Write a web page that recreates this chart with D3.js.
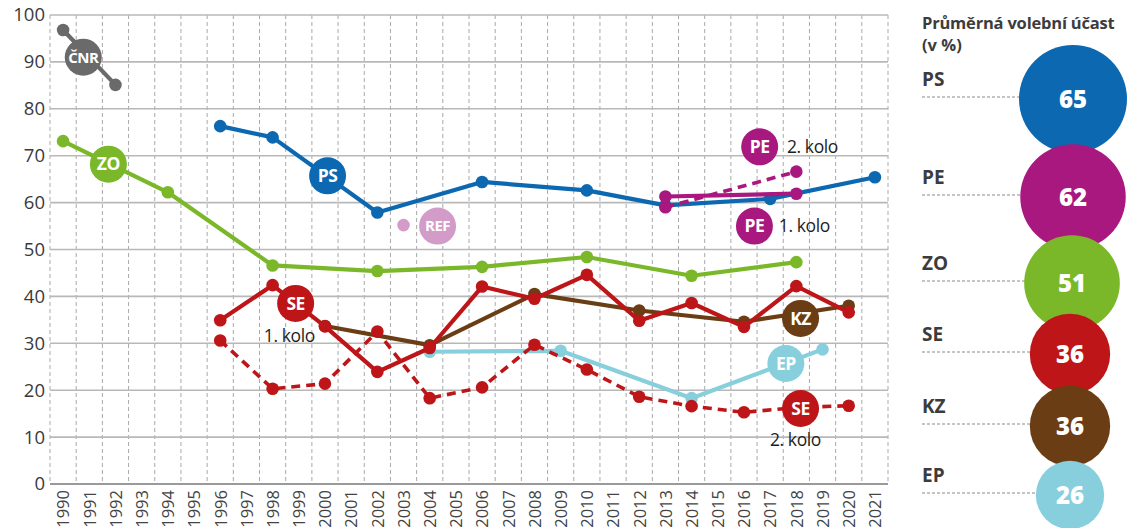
<!DOCTYPE html>
<html>
<head>
<meta charset="utf-8">
<script src="https://cdn.jsdelivr.net/npm/d3@7"></script>
<style>
  body { margin: 0; background: #fff; }
  svg { display: block; font-family: 'Open Sans', sans-serif; }
</style>
</head>
<body>
<div id="chart"></div>
<script>
// ---- data ----
const years = d3.range(1990, 2022);
const yTicks = d3.range(0, 101, 10);

const cnrYears = [1990, 1992];
const cnrValues = [96.8, 85.1];

const zoYears = [1990, 1994, 1998, 2002, 2006, 2010, 2014, 2018];
const zoValues = [73.1, 62.2, 46.6, 45.4, 46.3, 48.4, 44.4, 47.3];

const psYears = [1996, 1998, 2002, 2006, 2010, 2013, 2017, 2021];
const psValues = [76.3, 73.9, 57.9, 64.4, 62.6, 59.4, 60.8, 65.4];

const refYears = [2003];
const refValues = [55.2];

const peYears = [2013, 2018];
const pe1Values = [61.3, 61.9];
const pe2Values = [59.0, 66.6];

const seYears = [1996, 1998, 2000, 2002, 2004, 2006, 2008, 2010, 2012, 2014, 2016, 2018, 2020];
const se1Values = [34.9, 42.4, 33.6, 23.9, 29.0, 42.1, 39.5, 44.6, 34.8, 38.6, 33.5, 42.2, 36.6];
const se2Values = [30.6, 20.3, 21.4, 32.5, 18.3, 20.6, 29.7, 24.4, 18.6, 16.6, 15.3, 16.3, 16.7];

const kzYears = [2000, 2004, 2008, 2012, 2016, 2020];
const kzValues = [33.7, 29.6, 40.5, 37.0, 34.6, 38.0];

const epYears = [2004, 2009, 2014, 2019];
const epValues = [28.2, 28.4, 18.3, 28.7];

const legendLabels = ['PS', 'PE', 'ZO', 'SE', 'KZ', 'EP'];
const legendValues = [65, 62, 51, 36, 36, 26];

// ---- colours ----
const C = {
  cnr: '#6a6a6a', zo: '#7ab829', ps: '#0b68b1', ref: '#d39bc7',
  pe: '#a8187f', se: '#be1518', kz: '#6b3d14', ep: '#87cfdd'
};
const legendColors = [C.ps, C.pe, C.zo, C.se, C.kz, C.ep];

// ---- layout ----
const W = 1130, H = 528;
const margin = { top: 15, left: 50 };
const plotRight = 888, plotBottom = 484;

const svg = d3.select('#chart').append('svg').attr('width', W).attr('height', H);

const x = d3.scaleLinear().domain([1989.5, 2021.5]).range([margin.left, plotRight]);
const y = d3.scaleLinear().domain([0, 100]).range([plotBottom, margin.top]);

// grid
const gGrid = svg.append('g');
gGrid.selectAll('line.v')
  .data(d3.range(1989.5, 2022, 1))
  .join('line')
  .attr('x1', d => x(d)).attr('x2', d => x(d))
  .attr('y1', y(100)).attr('y2', y(0))
  .style('stroke', '#a9a9a9').style('stroke-width', 1)
  .style('stroke-dasharray', '4,3');

gGrid.selectAll('line.h')
  .data(yTicks)
  .join('line')
  .attr('x1', x(1989.5)).attr('x2', x(2021.5))
  .attr('y1', d => y(d)).attr('y2', d => y(d))
  .style('stroke', d => d === 0 ? '#9a9a9a' : '#b8b8b8')
  .style('stroke-width', d => d === 0 ? 2.2 : 1.6);

// axes
svg.append('g')
  .attr('transform', `translate(${margin.left - 5},0)`)
  .call(d3.axisLeft(y).tickValues(yTicks).tickSize(0).tickPadding(0))
  .call(g => {
    g.select('.domain').remove();
    g.selectAll('text').style('fill', '#3a3a3a').style('font-size', '18.5px')
      .style('font-family', "'Open Sans', sans-serif");
  });

svg.append('g')
  .attr('transform', `translate(0,${plotBottom})`)
  .call(d3.axisBottom(x).tickValues(years).tickSize(0).tickFormat(d3.format('d')))
  .call(g => {
    g.select('.domain').remove();
    g.selectAll('text')
      .attr('transform', 'rotate(-90)')
      .attr('text-anchor', 'end')
      .attr('x', -6).attr('y', 0).attr('dy', '0.35em')
      .style('fill', '#444').style('font-size', '16.5px')
      .style('font-family', "'Open Sans', sans-serif");
  });

// series
const lineGen = d3.line().x(d => x(d[0])).y(d => y(d[1]));
const zip = (a, b) => a.map((v, i) => [v, b[i]]);

const series = [
  { yrs: cnrYears, vals: cnrValues, color: C.cnr },
  { yrs: zoYears, vals: zoValues, color: C.zo },
  { yrs: psYears, vals: psValues, color: C.ps },
  { yrs: refYears, vals: refValues, color: C.ref },
  { yrs: kzYears, vals: kzValues, color: C.kz },
  { yrs: epYears, vals: epValues, color: C.ep },
  { yrs: seYears, vals: se2Values, color: C.se, dashed: true },
  { yrs: seYears, vals: se1Values, color: C.se },
  { yrs: peYears, vals: pe2Values, color: C.pe, dashed: true },
  { yrs: peYears, vals: pe1Values, color: C.pe }
];

const gSeries = svg.append('g');
series.forEach(s => {
  const pts = zip(s.yrs, s.vals);
  const g = gSeries.append('g');
  if (pts.length > 1) {
    g.append('path')
      .attr('d', lineGen(pts))
      .style('fill', 'none')
      .style('stroke', s.color)
      .style('stroke-width', s.dashed ? 3.6 : 4.2)
      .style('stroke-linejoin', 'round')
      .style('stroke-dasharray', s.dashed ? '9,6' : null);
  }
  g.selectAll('circle')
    .data(pts)
    .join('circle')
    .attr('cx', d => x(d[0])).attr('cy', d => y(d[1]))
    .attr('r', 6.3)
    .style('fill', s.color);
});

// series labels (bubbles on the lines)
const labels = [
  { text: 'ČNR', year: 1990.77, value: 91.0, color: C.cnr, size: 15 },
  { text: 'ZO', year: 1991.73, value: 68.2, color: C.zo },
  { text: 'PS', year: 2000.1, value: 65.7, color: C.ps },
  { text: 'REF', year: 2004.3, value: 55.0, color: C.ref, size: 15 },
  { text: 'SE', year: 1998.88, value: 38.5, color: C.se },
  { text: 'PE', year: 2016.6, value: 71.9, color: C.pe },
  { text: 'PE', year: 2016.4, value: 55.0, color: C.pe },
  { text: 'KZ', year: 2018.16, value: 35.3, color: C.kz },
  { text: 'EP', year: 2017.6, value: 25.7, color: C.ep },
  { text: 'SE', year: 2018.16, value: 16.1, color: C.se }
];
const gLabels = svg.append('g');
const lg = gLabels.selectAll('g').data(labels).join('g')
  .attr('transform', d => `translate(${x(d.year)},${y(d.value)})`);
lg.append('circle').attr('r', 18.5).style('fill', d => d.color);
lg.append('text')
  .attr('text-anchor', 'middle').attr('dy', '0.36em')
  .style('fill', '#fff').style('font-weight', 700)
  .style('font-size', d => (d.size || 17.5) + 'px')
  .style('letter-spacing', '-0.5px')
  .text(d => d.text);

// round notes
const notes = [
  { text: '1. kolo', year: 1998.64, value: 30.3, anchor: 'middle' },
  { text: '2. kolo', year: 2017.64, value: 70.5, anchor: 'start' },
  { text: '1. kolo', year: 2017.33, value: 53.8, anchor: 'start' },
  { text: '2. kolo', year: 2016.99, value: 8.1, anchor: 'start' }
];
svg.append('g').selectAll('text').data(notes).join('text')
  .attr('x', d => x(d.year)).attr('y', d => y(d.value))
  .attr('text-anchor', d => d.anchor)
  .style('fill', '#1e1e1e').style('font-size', '17.5px')
  .style('letter-spacing', '-0.4px')
  .text(d => d.text);

// ---- legend ----
const gLegend = svg.append('g');
gLegend.append('text')
  .attr('x', 922).attr('y', 29)
  .style('fill', '#3c3c3c').style('font-weight', 700).style('font-size', '16.5px')
  .style('letter-spacing', '-0.2px')
  .text('Průměrná volební účast');
gLegend.append('text')
  .attr('x', 922).attr('y', 51)
  .style('fill', '#3c3c3c').style('font-weight', 700).style('font-size', '16.5px')
  .text('(v %)');

const rScale = d3.scaleSqrt().domain([0, 65]).range([0, 54]);
const rowY = [99, 197, 283, 354, 426, 495];
const circleX = [1073, 1073, 1072, 1070, 1070, 1070];
const legendData = legendLabels.map((l, i) => ({ label: l, value: legendValues[i], color: legendColors[i], cy: rowY[i], cx: circleX[i] }));

gLegend.selectAll('line').data(legendData).join('line')
  .attr('x1', 922).attr('x2', d => d.cx)
  .attr('y1', d => d.cy - 2).attr('y2', d => d.cy - 2)
  .style('stroke', '#8c8c8c').style('stroke-width', 1.2).style('stroke-dasharray', '3,2');

gLegend.selectAll('text.lbl').data(legendData).join('text')
  .attr('class', 'lbl')
  .attr('x', 922).attr('y', d => d.cy - 13)
  .style('fill', '#3c3c3c').style('font-weight', 700).style('font-size', '19px')
  .text(d => d.label);

const lc = gLegend.selectAll('g.c').data(legendData).join('g').attr('class', 'c')
  .attr('transform', d => `translate(${d.cx},${d.cy})`);
lc.append('circle').attr('r', d => rScale(d.value)).style('fill', d => d.color);
lc.append('text')
  .attr('text-anchor', 'middle').attr('dy', '0.36em')
  .style('fill', '#fff').style('font-weight', 800).style('font-size', '24px')
  .text(d => d.value);
</script>
</body>
</html>
